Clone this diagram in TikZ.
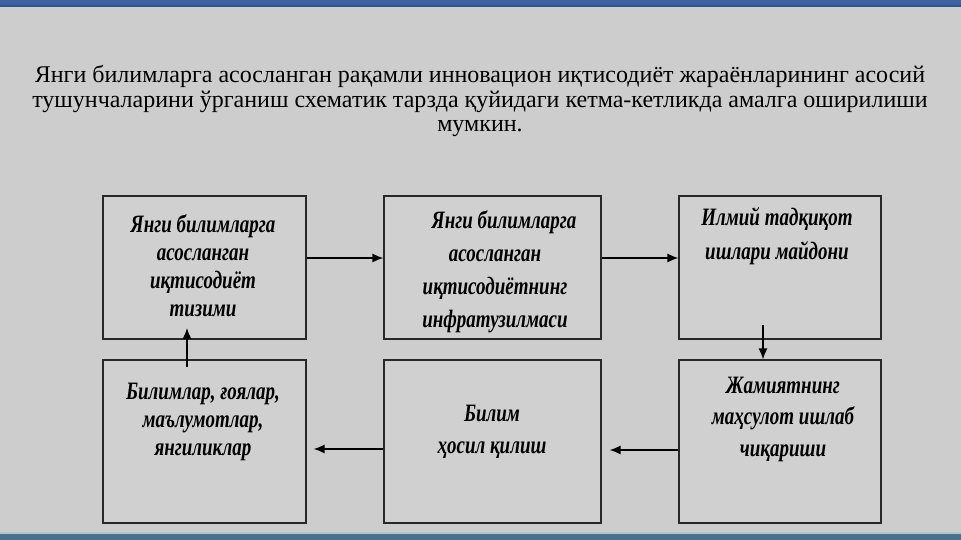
\documentclass[tikz,border=0pt]{standalone}
\usepackage{fontspec}
\setmainfont{Liberation Serif}
\newfontfamily\boxfont{Liberation Serif}[FakeStretch=0.76]
\usetikzlibrary{arrows.meta}
\definecolor{bgc}{RGB}{205,205,205}
\definecolor{boxc}{RGB}{208,208,208}
\definecolor{topbar}{RGB}{58,98,160}
\definecolor{topline}{RGB}{60,85,105}
\definecolor{botbar}{RGB}{74,112,140}
\definecolor{botline}{RGB}{170,200,210}
\definecolor{edgec}{RGB}{40,40,40}
\tikzset{
  stepbox/.style={draw=edgec, fill=boxc, line width=1.2pt, inner sep=0pt},
  boxtext/.style={align=center, inner sep=0pt, font=\boxfont\bfseries\itshape\fontsize{25}{28}\selectfont},
  titletext/.style={anchor=base, inner sep=0pt, font=\fontsize{24}{24}\selectfont},
  arr/.style={draw=black, line width=1.4pt, -{Latex[length=11pt,width=9pt]}}
}
\begin{document}
\begin{tikzpicture}[x=1pt,y=-1pt]
\useasboundingbox (0,0) rectangle (961,540);
\fill[bgc] (0,0) rectangle (961,540);
\fill[topbar] (0,0) rectangle (961,5);
\fill[topline] (0,5) rectangle (961,7);
\fill[botline] (0,532) rectangle (961,534);
\fill[botbar] (0,534) rectangle (961,540);

% title
\node[titletext] (t1) at (480,83) {Янги билимларга асосланган рақамли инновацион иқтисодиёт жараёнларининг асосий};
\node[titletext] (t2) at (480,108) {тушунчаларини ўрганиш схематик тарзда қуйидаги кетма-кетликда амалга оширилиши};
\node[titletext] (t3) at (480,132) {мумкин.};

% boxes
\node[stepbox, minimum width=203pt, minimum height=143pt] (b1) at (204.5,267.5) {};
\node[stepbox, minimum width=217pt, minimum height=143pt] (b2) at (492.5,267.5) {};
\node[stepbox, minimum width=202pt, minimum height=143pt] (b3) at (780,267.5) {};
\node[stepbox, minimum width=203pt, minimum height=163pt] (b4) at (204.5,441.5) {};
\node[stepbox, minimum width=217pt, minimum height=163pt] (b5) at (492.5,441.5) {};
\node[stepbox, minimum width=202pt, minimum height=163pt] (b6) at (780,441.5) {};

% box texts
\node[boxtext] (x1) at (203,266) {Янги билимларга\\асосланган\\иқтисодиёт\\тизими};
\node[boxtext, font=\boxfont\bfseries\itshape\fontsize{25}{33}\selectfont] (x2) at (495,272) {\hspace*{18pt}Янги билимларга\\асосланган\\иқтисодиётнинг\\инфратузилмаси};
\node[boxtext, font=\boxfont\bfseries\itshape\fontsize{25}{34}\selectfont] (x3) at (777,236) {Илмий тадқиқот\\ишлари майдони};
\node[boxtext] (x4) at (203,422) {Билимлар, ғоялар,\\маълумотлар,\\янгиликлар};
\node[boxtext, font=\boxfont\bfseries\itshape\fontsize{25}{32}\selectfont] (x5) at (492,432) {Билим\\ҳосил қилиш};
\node[boxtext, font=\boxfont\bfseries\itshape\fontsize{25}{31.5}\selectfont] (x6) at (783,419) {Жамиятнинг\\маҳсулот ишлаб\\чиқариши};

% connectors
\draw[arr] (b1.east |- 0,258) -- (b2.west |- 0,258);
\draw[arr] (b2.east |- 0,258) -- (b3.west |- 0,258);
\coordinate (s36) at (763,325);
\draw[arr] (s36) -- (s36 |- b6.north);
\draw[arr, shorten >=8pt] (b6.west |- 0,450) -- (b5.east |- 0,450);
\draw[arr, shorten >=7pt] (b5.west |- 0,449) -- (b4.east |- 0,449);
\coordinate (s41) at (187,367);
\coordinate (e41) at (187,328);
\draw[arr] (s41) -- (e41);
\end{tikzpicture}
\end{document}
